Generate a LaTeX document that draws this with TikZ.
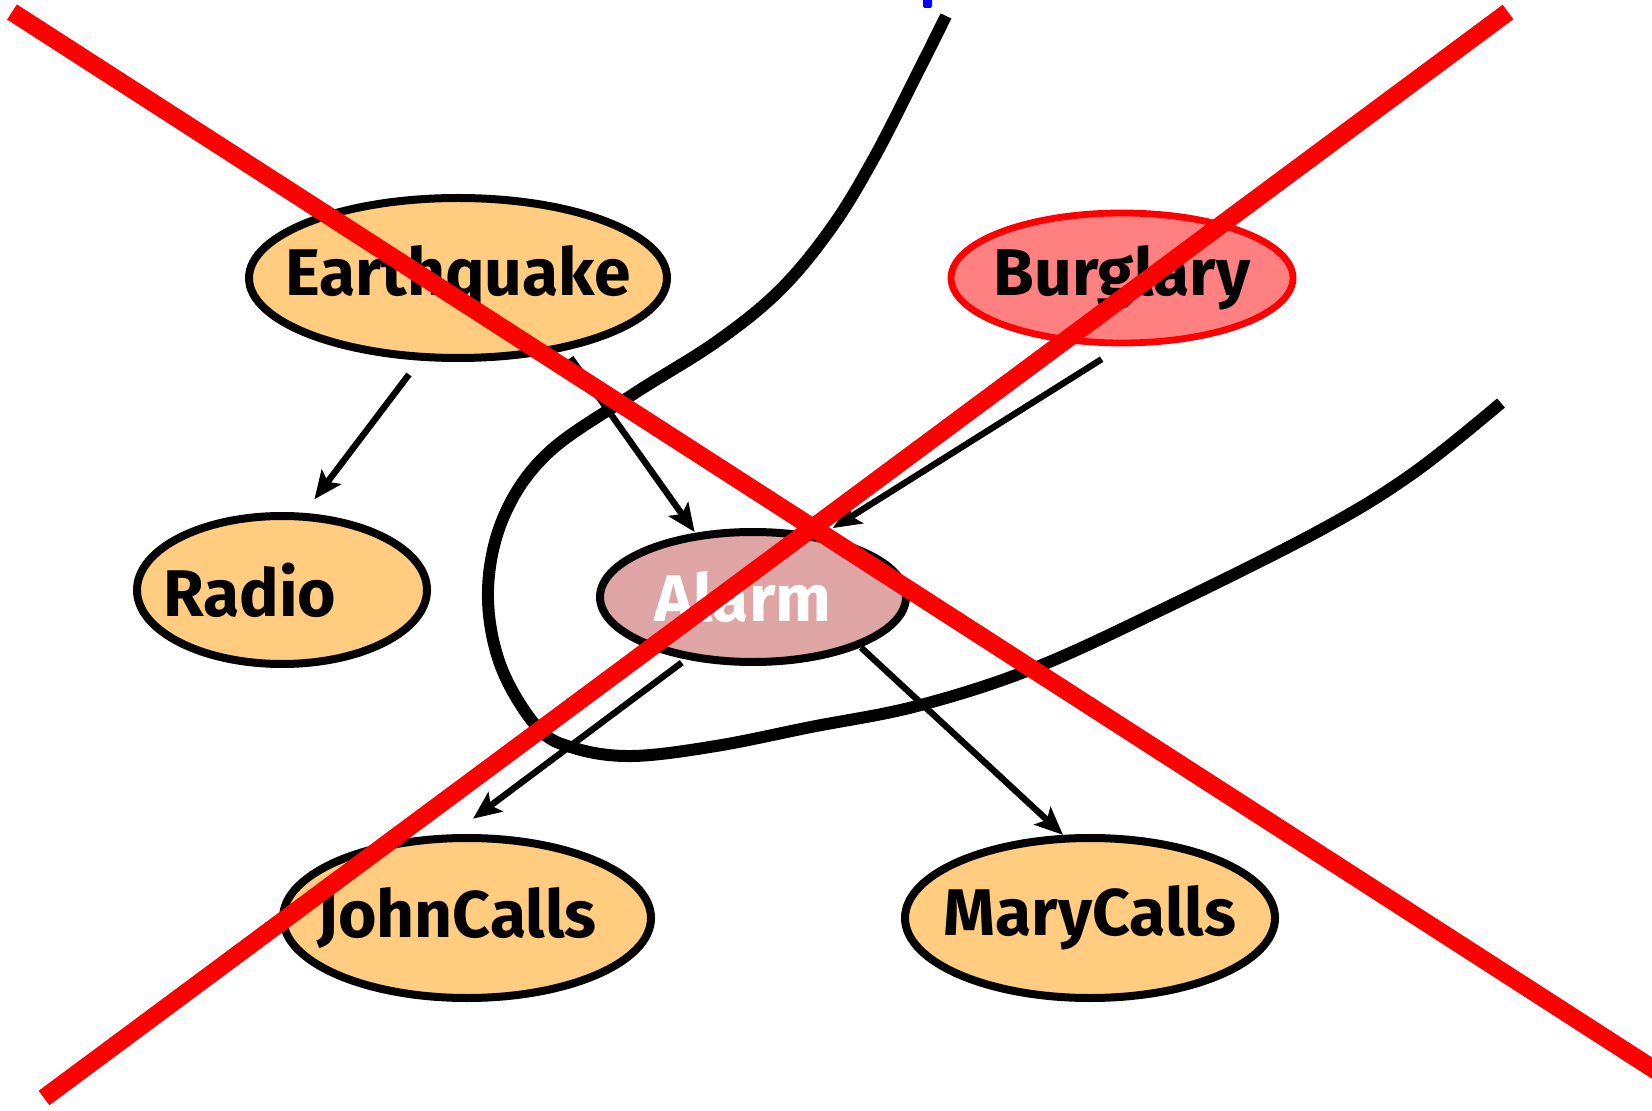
\documentclass[tikz,border=0pt]{standalone}
\usepackage{fontspec}
\setmainfont{Fira Sans}
\usetikzlibrary{arrows.meta, shapes.geometric}

\definecolor{nodeorange}{RGB}{255,204,128}
\definecolor{burgred}{RGB}{255,128,128}
\definecolor{alarmpink}{RGB}{223,164,164}

\begin{document}
\begin{tikzpicture}[x=0.5pt, y=-0.5pt, >={Stealth[length=14pt, width=12pt, inset=3pt]},
    var/.style={ellipse, draw, line width=4pt, fill=nodeorange, inner sep=0pt, font=\fontsize{33}{40}\selectfont\bfseries},
    link/.style={->, line width=3.2pt},
    cut/.style={line width=6pt},
    cross/.style={red, line width=9pt}]

        \useasboundingbox (0,0) rectangle (1652,1111);

        % variables
        \node[var, minimum width=209pt, minimum height=80pt] (E) at (458,278) {\makebox[0pt]{Earthquake}};
        \node[var, draw=red, line width=3.4pt, fill=burgred, minimum width=171pt, minimum height=65pt] (B) at (1122,278) {\makebox[0pt]{Burglary}};
        \node[var, minimum width=145pt, minimum height=74pt] (R) at (282,590) {\makebox[0pt]{\hspace*{-32pt}Radio}};
        \node[var, fill=alarmpink, text=white, minimum width=153pt, minimum height=65pt] (A) at (753,597) {\makebox[0pt]{\hspace*{-10pt}Alarm}};
        \node[var, minimum width=184pt, minimum height=80pt] (J) at (467,918) {\makebox[0pt]{\hspace*{-10pt}JohnCalls}};
        \node[var, minimum width=185pt, minimum height=80pt] (M) at (1090,918) {\makebox[0pt]{MaryCalls}};

        % edges
        \draw[link, shorten <=8.7pt, shorten >=8.5pt] (E.245) -- (R.74);
        \draw[link, shorten <=4.5pt, shorten >=0.5pt] (E.326) -- (A.132);
        \draw[link, shorten <=12pt, shorten >=6.5pt] (B.270) -- (A.42);
        \draw[link, shorten <=2.7pt, shorten >=13pt] (A.223) -- (J.100);
        \draw[link, shorten <=0.2pt, shorten >=0pt] (A.335) -- (M.108);

        % separating curve
        \draw[cut] plot[smooth, tension=0.6] coordinates {(946,16) (917,74) (874,158) (832,227) (780,290) (716,342) (632,395) (548,453) (504,516) (488,590) (500,664) (537,727) (574,748) (632,756) (716,746) (811,727) (917,706) (1032,669) (1159,611) (1317,532) (1412,474) (1501,403)};

        \fill[blue, rounded corners=1pt] (923,-2) rectangle (932,8);

        % crossed out
        \draw[cross] (12,12) -- (1700,1099);
        \draw[cross] (1508,12) -- (44,1098);

    \end{tikzpicture}
\end{document}
